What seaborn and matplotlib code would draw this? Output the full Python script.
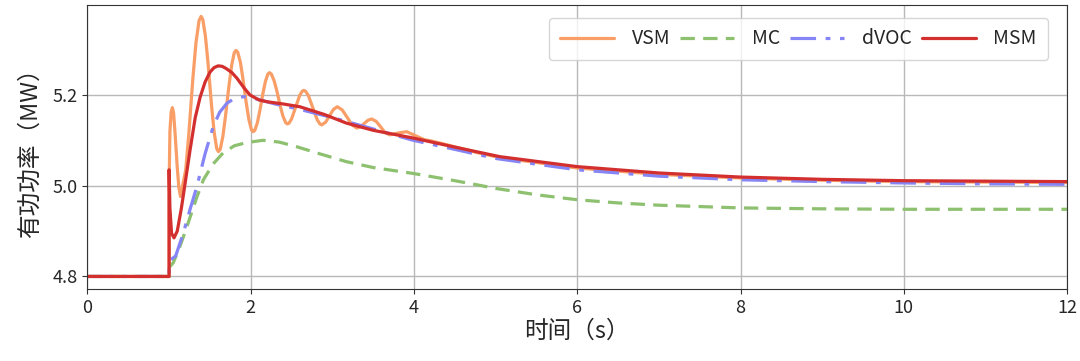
import matplotlib
matplotlib.use("Agg")
import matplotlib.pyplot as plt
import pandas as pd
import seaborn as sns

# values (time in s, active power in MW)
t_vsm = [0.0, 1.0, 1.0, 1.01, 1.025, 1.04, 1.055, 1.075, 1.10, 1.12, 1.14,
         1.165, 1.203, 1.241, 1.266, 1.291, 1.329, 1.367, 1.392,
         1.413, 1.445, 1.477, 1.498, 1.519, 1.551, 1.583, 1.604,
         1.626, 1.658, 1.690, 1.712, 1.734, 1.766, 1.798, 1.82,
         1.841, 1.873, 1.904, 1.925, 1.946, 1.978, 2.009, 2.03,
         2.05, 2.08, 2.11, 2.13, 2.15, 2.18, 2.21, 2.23,
         2.252, 2.285, 2.318, 2.34, 2.362, 2.395, 2.428, 2.45,
         2.47, 2.50, 2.55, 2.60, 2.63, 2.65,
         2.672, 2.705, 2.76, 2.815, 2.848, 2.87,
         2.918, 2.965, 3.013, 3.06, 3.12, 3.18, 3.24, 3.30,
         3.345, 3.39, 3.435, 3.48, 3.535, 3.59, 3.645, 3.70,
         3.805, 3.91, 4.02, 4.13, 4.20, 4.34, 4.77, 5.05, 6.0, 7.0, 8.0, 9.0, 10.0, 11.0, 12.0]
p_vsm = [4.8, 4.8, 5.0, 5.12, 5.162, 5.172, 5.16, 5.11, 5.04, 4.995, 4.976,
         5.000, 5.034, 5.113, 5.175, 5.236, 5.315, 5.364, 5.373,
         5.366, 5.329, 5.270, 5.224, 5.178, 5.119, 5.082, 5.075,
         5.080, 5.108, 5.152, 5.187, 5.221, 5.265, 5.293, 5.298,
         5.294, 5.272, 5.236, 5.209, 5.181, 5.145, 5.123, 5.119,
         5.122, 5.138, 5.164, 5.184, 5.204, 5.230, 5.246, 5.249,
         5.246, 5.232, 5.210, 5.193, 5.175, 5.153, 5.139, 5.136,
         5.138, 5.147, 5.173, 5.199, 5.208, 5.210,
         5.208, 5.199, 5.172, 5.145, 5.136, 5.134,
         5.140, 5.154, 5.168, 5.174, 5.167, 5.151, 5.134, 5.127,
         5.130, 5.137, 5.144, 5.147, 5.142, 5.130, 5.117, 5.112,
         5.116, 5.119, 5.110, 5.101, 5.099, 5.093, 5.073, 5.062, 5.039, 5.025, 5.017, 5.012,
         5.009, 5.008, 5.007]

t_mc = [0.0, 1.0, 1.0, 1.05, 1.12, 1.19, 1.26, 1.34, 1.42, 1.54, 1.66, 1.80, 1.95, 2.15,
        2.35, 2.56, 2.85, 3.17, 3.5, 3.99, 4.5, 4.77, 5.0, 5.5, 6.0, 6.5, 7.0, 8.0, 9.0,
        10.0, 11.0, 12.0]
p_mc = [4.8, 4.8, 4.82, 4.83, 4.86, 4.895, 4.932, 4.975, 5.013, 5.048, 5.072, 5.088, 5.095,
        5.100, 5.096, 5.086, 5.070, 5.053, 5.040, 5.027, 5.011, 5.002, 4.994, 4.980, 4.969,
        4.962, 4.957, 4.951, 4.949, 4.948, 4.948, 4.948]

t_dvoc = [0.0, 1.0, 1.0, 1.02, 1.08, 1.175, 1.26, 1.34, 1.44, 1.54, 1.62, 1.71, 1.80, 1.91,
          2.00, 2.11, 2.30, 2.56, 3.0, 3.5, 3.99, 4.5, 5.0, 6.0, 7.0, 8.0, 9.0, 10.0, 11.0, 12.0]
p_dvoc = [4.8, 4.8, 4.83, 4.837, 4.845, 4.896, 4.95, 4.998, 5.07, 5.130, 5.162, 5.182, 5.192,
          5.196, 5.195, 5.189, 5.180, 5.170, 5.150, 5.125, 5.100, 5.080, 5.060, 5.035, 5.021,
          5.013, 5.009, 5.006, 5.004, 5.003]

t_msm = [0.0, 1.0, 1.0, 1.01, 1.03, 1.06, 1.10, 1.15, 1.20, 1.257, 1.32, 1.38, 1.44, 1.50,
         1.55, 1.60, 1.65, 1.70, 1.77, 1.83, 1.92, 1.99, 2.10, 2.20, 2.40, 2.60, 2.90, 3.17,
         3.50, 3.99, 4.5, 5.05, 6.0, 7.0, 8.0, 9.0, 10.0, 11.0, 12.0]
p_msm = [4.8, 4.8, 5.035, 4.95, 4.895, 4.885, 4.90, 4.95, 5.01, 5.079, 5.15, 5.195, 5.228,
         5.250, 5.260, 5.264, 5.263, 5.258, 5.249, 5.237, 5.215, 5.200, 5.189, 5.185, 5.180,
         5.174, 5.157, 5.138, 5.122, 5.105, 5.085, 5.064, 5.042, 5.028, 5.019, 5.014, 5.011,
         5.010, 5.009]

names = ["VSM", "MC", "dVOC", "MSM"]
xticks = [0, 2, 4, 6, 8, 10, 12]
yticks = [4.8, 5.0, 5.2]

sns.set_style("ticks")
plt.rcParams['font.family'] = ['Noto Sans CJK SC', 'DejaVu Sans']
plt.rcParams['axes.unicode_minus'] = False

fig = plt.figure(figsize=(10.8, 3.61), dpi=100)
ax = fig.add_axes([0.081, 0.199, 0.907, 0.787])

series = [
    (t_vsm, p_vsm, "#f89e66", "-"),
    (t_mc, p_mc, "#8dc06f", (0, (4.5, 2.6))),
    (t_dvoc, p_dvoc, "#8585f5", (0, (8, 3, 1.5, 3))),
    (t_msm, p_msm, "#d32f2f", "-"),
]

for name, (t, p, col, ls) in zip(names, series):
    df = pd.DataFrame({"t": t, "p": p})
    sns.lineplot(data=df, x="t", y="p", ax=ax, estimator=None, sort=False,
                 color=col, linewidth=2.3, label=name, linestyle=ls)

ax.set_xlim(0, 12)
ax.set_ylim(4.772, 5.398)
ax.set_xticks(xticks)
ax.set_yticks(yticks)
ax.set_yticklabels([f"{v:.1f}" for v in yticks])
ax.tick_params(labelsize=13, color="#333333")
ax.grid(True, color="#b8b8b8", linewidth=1)
for s in ax.spines.values():
    s.set_color("#333333")

ax.set_xlabel("时间（s）", fontsize=17, labelpad=2)
ax.set_ylabel("有功功率（MW）", fontsize=17, labelpad=8)

ax.legend(loc="upper right", ncol=4, fontsize=14, handlelength=2.8,
          handletextpad=0.9, columnspacing=0.5, borderpad=0.55, frameon=True,
          edgecolor="#cccccc", bbox_to_anchor=(0.99, 0.99))

fig.savefig("out.png", dpi=100)
